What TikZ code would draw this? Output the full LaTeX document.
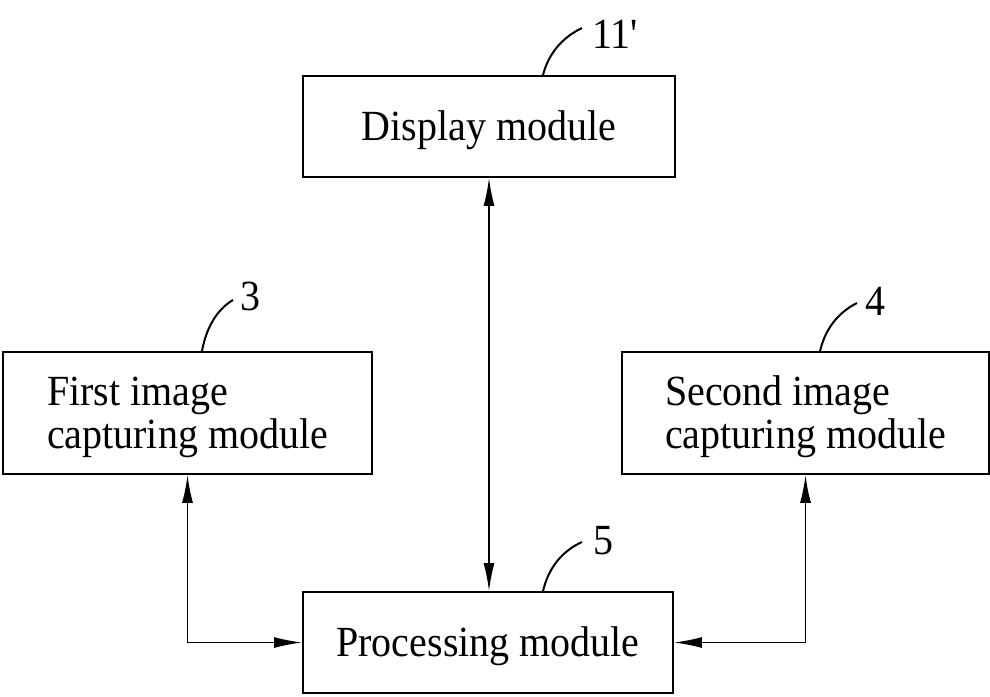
\documentclass[tikz,border=0pt]{standalone}
\usepackage{fontspec}
\setmainfont{Liberation Serif}[FakeStretch=0.93]
\usetikzlibrary{arrows.meta,calc}
\begin{document}
\begin{tikzpicture}[x=0.5pt,y=-0.5pt,
  txtfont/.style={font=\fontsize{21.5}{21.5}\selectfont},
  modbox/.style={draw,line width=0.9pt,inner sep=0pt,txtfont},
  oneline/.style={text height=15pt,text depth=1pt},
  twoline/.style={align=left},
  reflabel/.style={inner sep=0pt,anchor=west,txtfont},
  leader/.style={line width=1pt},
  conn/.style={line width=0.9pt,{Latex[length=14pt,width=5.5pt]}-{Latex[length=14pt,width=5.5pt]}}]
\useasboundingbox (0,0) rectangle (990,696);
% boxes
\node[modbox,oneline,minimum width=186pt,minimum height=50.5pt] (disp) at (489,126.5) {Display module};
\node[modbox,twoline,minimum width=184.5pt,minimum height=61pt] (first) at (187.5,413) {\rule{0pt}{18.5pt}First image\\capturing module};
\node[modbox,twoline,minimum width=183.5pt,minimum height=61pt] (second) at (805.5,413) {\rule{0pt}{18.5pt}Second image\\capturing module};
\node[modbox,oneline,minimum width=185pt,minimum height=50.5pt] (proc) at (488,642.5) {Processing module};
% reference labels
\node[reflabel] (l11) at (592,34) {11\textquotesingle};
\node[reflabel] (l3) at (240,296) {3};
\node[reflabel] (l4) at (865,301) {4};
\node[reflabel] (l5) at (593,541) {5};
\coordinate (e11) at (582,28);
\coordinate (e3) at (233,300);
\coordinate (e4) at (857,303);
\coordinate (e5) at (582,542);
% leaders
\draw[leader] ([xshift=27pt]disp.north) .. controls +(5,-20) and +(-21,10) .. (e11);
\draw[leader] ([xshift=7.25pt]first.north) .. controls +(4,-22) and +(-17,10) .. (e3);
\draw[leader] ([xshift=7.25pt]second.north) .. controls +(5,-21) and +(-20,10) .. (e4);
\draw[leader] ([xshift=27.5pt]proc.north) .. controls +(5,-21) and +(-22,10) .. (e5);
% connectors
\draw[conn] (disp.south) -- (disp.south |- proc.north);
\draw[conn] (first.south) |- (proc.west);
\draw[conn] (second.south) |- (proc.east);
\end{tikzpicture}
\end{document}
